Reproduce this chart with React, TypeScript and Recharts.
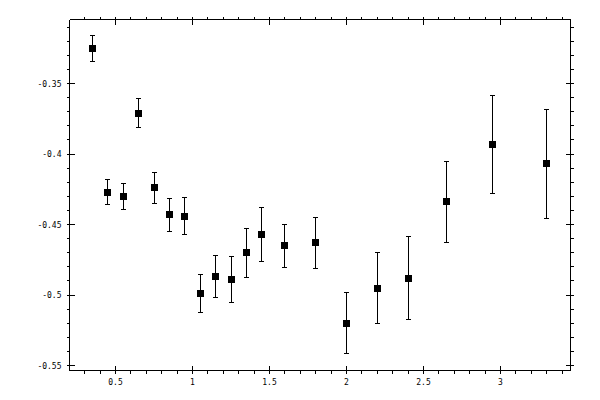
import React from "react";
import { ScatterChart, Scatter, XAxis, YAxis, ErrorBar } from "recharts";

const xValues = [0.35, 0.45, 0.55, 0.65, 0.75, 0.85, 0.95, 1.05, 1.15, 1.25, 1.35, 1.45, 1.6, 1.8, 2.0, 2.2, 2.4, 2.65, 2.95, 3.3];
const yValues = [-0.325, -0.427, -0.43, -0.371, -0.424, -0.443, -0.444, -0.499, -0.487, -0.489, -0.47, -0.457, -0.465, -0.463, -0.52, -0.495, -0.488, -0.434, -0.393, -0.407];
const yErrors = [0.0094, 0.0089, 0.0093, 0.0102, 0.011, 0.0117, 0.0131, 0.0134, 0.0149, 0.0162, 0.0174, 0.0191, 0.0152, 0.0182, 0.0217, 0.0252, 0.0295, 0.0289, 0.0348, 0.0387];

const xMajorTicks = [0.5, 1, 1.5, 2, 2.5, 3];
const xMajorLabels = ["0.5", "1", "1.5", "2", "2.5", "3"];
const xMinorTicks = [0.3, 0.4, 0.6, 0.7, 0.8, 0.9, 1.1, 1.2, 1.3, 1.4, 1.6, 1.7, 1.8, 1.9, 2.1, 2.2, 2.3, 2.4, 2.6, 2.7, 2.8, 2.9, 3.1, 3.2, 3.3, 3.4];
const yMajorTicks = [-0.55, -0.5, -0.45, -0.4, -0.35];
const yMajorLabels = ["-0.55", "-0.5", "-0.45", "-0.4", "-0.35"];
const yMinorTicks = [-0.54, -0.53, -0.52, -0.51, -0.49, -0.48, -0.47, -0.46, -0.44, -0.43, -0.42, -0.41, -0.39, -0.38, -0.37, -0.36, -0.34, -0.33, -0.32, -0.31];

const xDomain = [0.2013, 3.4545];
const yDomain = [-0.5535, -0.3046];

const data = xValues.map((x, i) => ({ x, y: yValues[i], err: yErrors[i] }));
const xTicks = [...xMajorTicks, ...xMinorTicks].sort((a, b) => a - b);
const yTicks = [...yMajorTicks, ...yMinorTicks].sort((a, b) => a - b);

const findIdx = (list: number[], v: number) => list.findIndex((t) => Math.abs(t - v) < 1e-6);

const FONT = "'DejaVu Sans Mono', monospace";
const MAJ_IN = 5;
const MAJ_OUT = 3;
const MIN_OUT = 3;

const BottomTick = (props: any) => {
  const { x, y, payload } = props;
  const i = findIdx(xMajorTicks, payload.value);
  if (i >= 0) {
    return (
      <g>
        <line x1={x} x2={x} y1={y - MAJ_IN} y2={y + MAJ_OUT} stroke="#000" strokeWidth={1} shapeRendering="crispEdges" />
        <text x={x} y={y + 14} textAnchor="middle" fontFamily={FONT} fontSize={8} fill="#000">
          {xMajorLabels[i]}
        </text>
      </g>
    );
  }
  return <line x1={x} x2={x} y1={y} y2={y + MIN_OUT} stroke="#000" strokeWidth={1} shapeRendering="crispEdges" />;
};

const TopTick = (props: any) => {
  const { x, y, payload } = props;
  const i = findIdx(xMajorTicks, payload.value);
  if (i >= 0) {
    return <line x1={x} x2={x} y1={y + MAJ_IN} y2={y - MAJ_OUT} stroke="#000" strokeWidth={1} shapeRendering="crispEdges" />;
  }
  return <line x1={x} x2={x} y1={y} y2={y - MIN_OUT} stroke="#000" strokeWidth={1} shapeRendering="crispEdges" />;
};

const LeftTick = (props: any) => {
  const { x, y, payload } = props;
  const i = findIdx(yMajorTicks, payload.value);
  if (i >= 0) {
    return (
      <g>
        <line x1={x + MAJ_IN} x2={x - MAJ_OUT} y1={y} y2={y} stroke="#000" strokeWidth={1} shapeRendering="crispEdges" />
        <text x={x - 8} y={y + 3} textAnchor="end" fontFamily={FONT} fontSize={8} fill="#000">
          {yMajorLabels[i]}
        </text>
      </g>
    );
  }
  return <line x1={x} x2={x - MIN_OUT} y1={y} y2={y} stroke="#000" strokeWidth={1} shapeRendering="crispEdges" />;
};

const RightTick = (props: any) => {
  const { x, y, payload } = props;
  const i = findIdx(yMajorTicks, payload.value);
  if (i >= 0) {
    return <line x1={x - MAJ_IN} x2={x + MAJ_OUT} y1={y} y2={y} stroke="#000" strokeWidth={1} shapeRendering="crispEdges" />;
  }
  return <line x1={x} x2={x + MIN_OUT} y1={y} y2={y} stroke="#000" strokeWidth={1} shapeRendering="crispEdges" />;
};

const SquareMarker = (props: any) => {
  const { cx, cy } = props;
  return <rect x={cx - 3.5} y={cy - 3.5} width={7} height={7} fill="#000" shapeRendering="crispEdges" />;
};

export default function App() {
  return (
    <div style={{ position: "absolute", left: 0, top: 0, width: 600, height: 400, background: "#fff" }}>
      <ScatterChart width={600} height={400} margin={{ top: 18.5, right: 28.5, bottom: 28.5, left: 68.5 }}>
        <XAxis
          xAxisId="b"
          dataKey="x"
          type="number"
          orientation="bottom"
          domain={xDomain}
          allowDataOverflow
          ticks={xTicks}
          interval={0}
          height={1}
          tickSize={0}
          tickMargin={0}
          tickLine={false}
          axisLine={{ stroke: "#000", strokeWidth: 1, shapeRendering: "crispEdges" }}
          tick={<BottomTick />}
        />
        <XAxis
          xAxisId="t"
          dataKey="x"
          type="number"
          orientation="top"
          domain={xDomain}
          allowDataOverflow
          ticks={xTicks}
          interval={0}
          height={1}
          tickSize={0}
          tickMargin={0}
          tickLine={false}
          axisLine={{ stroke: "#000", strokeWidth: 1, shapeRendering: "crispEdges" }}
          tick={<TopTick />}
        />
        <YAxis
          yAxisId="l"
          dataKey="y"
          type="number"
          orientation="left"
          domain={yDomain}
          allowDataOverflow
          ticks={yTicks}
          interval={0}
          width={1}
          tickSize={0}
          tickMargin={0}
          tickLine={false}
          axisLine={{ stroke: "#000", strokeWidth: 1, shapeRendering: "crispEdges" }}
          tick={<LeftTick />}
        />
        <YAxis
          yAxisId="r"
          dataKey="y"
          type="number"
          orientation="right"
          domain={yDomain}
          allowDataOverflow
          ticks={yTicks}
          interval={0}
          width={1}
          tickSize={0}
          tickMargin={0}
          tickLine={false}
          axisLine={{ stroke: "#000", strokeWidth: 1, shapeRendering: "crispEdges" }}
          tick={<RightTick />}
        />
        <Scatter data={data} xAxisId="b" yAxisId="l" fill="#000" shape={<SquareMarker />} isAnimationActive={false}>
          <ErrorBar
            dataKey="err"
            direction="y"
            width={2.5}
            stroke="#000"
            strokeWidth={1}
            shapeRendering="crispEdges"
            isAnimationActive={false}
          />
        </Scatter>
      </ScatterChart>
    </div>
  );
}
